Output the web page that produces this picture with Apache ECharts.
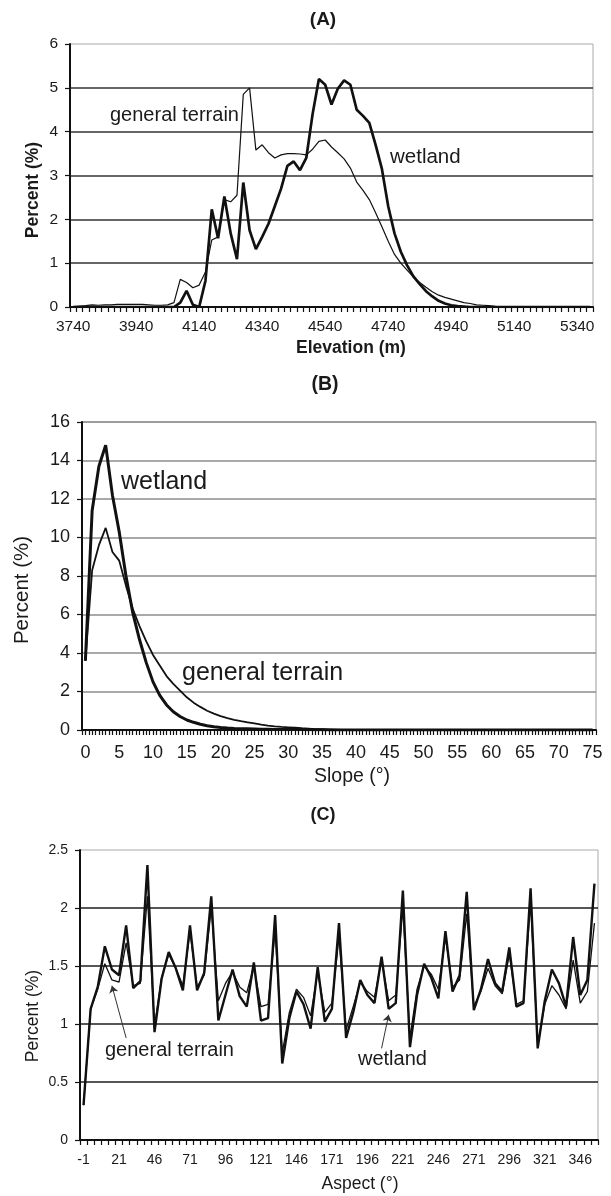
<!DOCTYPE html>
<html>
<head>
<meta charset="utf-8">
<title>Wetland vs general terrain</title>
<script src="https://cdn.jsdelivr.net/npm/echarts@6/dist/echarts.min.js"></script>
<style>
  html, body { margin: 0; padding: 0; background: #fff; }
  #main { width: 611px; height: 1196px; }
</style>
</head>
<body>
<div id="main"></div>
<script>
// (A) elevation, 20 m bins from 3740 m
var elevCats = []
for (var e = 3740; e <= 5380; e += 20) elevCats.push(String(e))
var elevTerrain = [
  0.01, 0.02, 0.03, 0.05, 0.04, 0.05, 0.05, 0.06, 0.06, 0.06,
  0.06, 0.06, 0.05, 0.04, 0.04, 0.05, 0.1, 0.63, 0.56, 0.44,
  0.5, 0.8, 1.53, 1.6, 2.45, 2.4, 2.55, 4.85, 5.0, 3.58,
  3.7, 3.52, 3.4, 3.47, 3.5, 3.5, 3.49, 3.47, 3.6, 3.78,
  3.81, 3.65, 3.52, 3.38, 3.17, 2.85, 2.66, 2.45, 2.15, 1.83,
  1.5, 1.2, 1.0, 0.84, 0.68, 0.56, 0.45, 0.35, 0.27, 0.22,
  0.18, 0.14, 0.1, 0.08, 0.05, 0.04, 0.03, 0.015, 0.01, 0,
  0, 0, 0, 0, 0, 0, 0, 0, 0, 0,
  0, 0, 0
]
var elevWetland = [
  0, 0, 0, 0, 0, 0, 0, 0, 0, 0,
  0, 0, 0, 0, 0, 0, 0, 0.1, 0.37, 0.05,
  0, 0.6, 2.23, 1.57, 2.52, 1.68, 1.09, 2.84, 1.75, 1.32,
  1.6, 1.9, 2.3, 2.7, 3.22, 3.32, 3.12, 3.4, 4.4, 5.2,
  5.07, 4.62, 4.98, 5.17, 5.07, 4.5, 4.36, 4.2, 3.7, 3.15,
  2.3, 1.68, 1.26, 0.95, 0.7, 0.52, 0.36, 0.24, 0.14, 0.08,
  0.04, 0.02, 0.01, 0, 0, 0, 0, 0, 0, 0,
  0, 0, 0, 0, 0, 0, 0, 0, 0, 0,
  0, 0, 0
]

// (B) slope, 1 degree bins
var slopeCats = []
for (var s = 0; s <= 75; s++) slopeCats.push(String(s))
var slopeWetland = [
  3.6, 11.4, 13.7, 14.8, 12.2, 10.3, 8.0, 6.1, 4.7, 3.5,
  2.5, 1.8, 1.3, 0.95, 0.7, 0.52, 0.4, 0.3, 0.22, 0.17,
  0.13, 0.1, 0.08, 0.07, 0.06, 0.05, 0.04, 0.04, 0.03, 0.03,
  0.03, 0.02, 0.02, 0.01, 0.01, 0.01, 0, 0, 0, 0,
  0, 0, 0, 0, 0, 0, 0, 0, 0, 0,
  0, 0, 0, 0, 0, 0, 0, 0, 0, 0,
  0, 0, 0, 0, 0, 0, 0, 0, 0, 0,
  0, 0, 0, 0, 0, 0
]
var slopeTerrain = [
  3.6, 8.3, 9.6, 10.5, 9.25, 8.8, 7.5, 6.3, 5.4, 4.6,
  3.9, 3.35, 2.8, 2.4, 2.05, 1.7, 1.42, 1.2, 1.0, 0.85,
  0.72, 0.62, 0.53, 0.46, 0.4, 0.34, 0.28, 0.23, 0.19, 0.16,
  0.14, 0.12, 0.09, 0.07, 0.05, 0.04, 0.03, 0.02, 0.01, 0.01,
  0, 0, 0, 0, 0, 0, 0, 0, 0, 0,
  0, 0, 0, 0, 0, 0, 0, 0, 0, 0,
  0, 0, 0, 0, 0, 0, 0, 0, 0, 0,
  0, 0, 0, 0, 0, 0
]

// (C) aspect: flat (-1) then 5 degree bins
var aspectCats = ['-1']
for (var a = 1; a <= 356; a += 5) aspectCats.push(String(a))
var aspectWetland = [
  0.3, 1.13, 1.32, 1.67, 1.47, 1.42, 1.85, 1.31, 1.37, 2.37,
  0.93, 1.39, 1.62, 1.48, 1.29, 1.85, 1.29, 1.44, 2.1, 1.03,
  1.25, 1.47, 1.24, 1.15, 1.53, 1.03, 1.05, 1.94, 0.66, 1.05,
  1.28, 1.17, 0.96, 1.49, 1.02, 1.13, 1.87, 0.88, 1.1, 1.38,
  1.25, 1.18, 1.58, 1.13, 1.18, 2.15, 0.8, 1.25, 1.52, 1.4,
  1.22, 1.8, 1.28, 1.42, 2.14, 1.12, 1.3, 1.56, 1.35, 1.28,
  1.66, 1.15, 1.18, 2.17, 0.79, 1.2, 1.47, 1.35, 1.15, 1.75,
  1.25, 1.38, 2.21
]
var aspectTerrain = [
  0.3, 1.13, 1.3, 1.52, 1.38, 1.36, 1.7, 1.33, 1.35, 2.1,
  0.98, 1.4, 1.6, 1.48, 1.33, 1.8, 1.32, 1.42, 2.0, 1.2,
  1.35, 1.45, 1.32, 1.27, 1.5, 1.15, 1.17, 1.8, 0.75, 1.1,
  1.3, 1.23, 1.07, 1.45, 1.1, 1.18, 1.75, 0.95, 1.15, 1.36,
  1.28, 1.23, 1.55, 1.2, 1.25, 2.0, 0.88, 1.3, 1.5, 1.43,
  1.3, 1.75, 1.32, 1.38, 1.95, 1.15, 1.28, 1.48, 1.33, 1.26,
  1.6, 1.17, 1.2, 2.05, 0.82, 1.17, 1.33, 1.25, 1.13, 1.55,
  1.18, 1.28, 1.87
]

var FONT = '"Liberation Sans", Arial, Helvetica, sans-serif'
var INK = '#111'

function txt(x, y, text, size, opts) {
  opts = opts || {}
  return {
    type: 'text',
    x: x,
    y: y,
    rotation: opts.rotate ? Math.PI / 2 : 0,
    silent: true,
    style: {
      text: text,
      font: (opts.bold ? 'bold ' : '') + size + 'px ' + FONT,
      fill: '#1a1a1a',
      align: opts.align || 'center',
      verticalAlign: 'middle',
      textAlign: opts.align || 'center',
      textVerticalAlign: 'middle',
    },
  }
}

function catAxis(grid, data, fontSize, labelEvery, margin) {
  return {
    type: 'category',
    gridIndex: grid,
    data: data,
    boundaryGap: true,
    axisLine: { lineStyle: { color: INK, width: 2 } },
    axisTick: { show: true, interval: 0, length: 5, lineStyle: { color: INK, width: 1.2 } },
    axisLabel: { interval: labelEvery - 1, fontSize: fontSize, color: '#1a1a1a', margin: margin, fontFamily: FONT },
    splitLine: { show: false },
  }
}

function valAxis(grid, max, step, fontSize, gridColor, showMax) {
  return {
    type: 'value',
    gridIndex: grid,
    min: 0,
    max: max,
    interval: step,
    axisLine: { show: true, lineStyle: { color: INK, width: 2 } },
    axisTick: { show: true, length: 5, lineStyle: { color: INK, width: 1.2 } },
    axisLabel: { fontSize: fontSize, color: '#1a1a1a', margin: 12, fontFamily: FONT },
    splitLine: { show: true, showMaxLine: showMax, lineStyle: { color: gridColor, width: 1.5 } },
  }
}

function line(name, x, y, data, width) {
  return {
    name: name,
    type: 'line',
    xAxisIndex: x,
    yAxisIndex: y,
    data: data,
    symbol: 'none',
    smooth: false,
    lineStyle: { color: INK, width: width },
    emphasis: { disabled: true },
  }
}

var chart = echarts.init(document.getElementById('main'))

var terrainC = line('general terrain', 2, 2, aspectTerrain, 1.3)
terrainC.markLine = {
  silent: true,
  symbol: ['none', 'arrow'],
  symbolSize: 7,
  label: { show: false },
  lineStyle: { color: '#333', width: 1, type: 'solid' },
  data: [
    [{ coord: [aspectCats[6], 0.88] }, { coord: [aspectCats[4], 1.33] }],
    [{ coord: [aspectCats[42], 0.79] }, { coord: [aspectCats[43], 1.08] }],
  ],
}

var option = {
  animation: false,
  backgroundColor: '#fff',
  textStyle: { fontFamily: FONT },
  grid: [
    { left: 70, top: 44, width: 523, height: 263, show: true, borderColor: '#aaa', borderWidth: 1 },
    { left: 82, top: 422, width: 514, height: 308, show: true, borderColor: '#999', borderWidth: 1 },
    { left: 80, top: 850, width: 518, height: 290, show: true, borderColor: '#aaa', borderWidth: 1 },
  ],
  xAxis: [
    catAxis(0, elevCats, 15.5, 10, 12),
    Object.assign(catAxis(1, slopeCats, 18, 5, 14), { axisTick: { show: false } }),
    catAxis(2, aspectCats, 14, 5, 13),
    // half-degree tick marks under the slope axis
    {
      type: 'value',
      gridIndex: 1,
      min: 0,
      max: 152,
      interval: 1,
      position: 'bottom',
      axisLine: { show: false },
      axisLabel: { show: false },
      splitLine: { show: false },
      axisTick: { show: true, length: 5, lineStyle: { color: INK, width: 1.2 } },
    },
  ],
  yAxis: [
    valAxis(0, 6, 1, 15.5, '#333', false),
    valAxis(1, 16, 2, 18, '#8c8c8c', true),
    valAxis(2, 2.5, 0.5, 14, '#1e1e1e', false),
  ],
  series: [
    line('wetland', 0, 0, elevWetland, 2.7),
    line('general terrain', 0, 0, elevTerrain, 1.2),
    line('wetland', 1, 1, slopeWetland, 3),
    line('general terrain', 1, 1, slopeTerrain, 1.8),
    line('wetland', 2, 2, aspectWetland, 2.4),
    terrainC,
  ],
  graphic: [
    // panel A
    txt(323, 20, '(A)', 19, { bold: true }),
    txt(33, 190, 'Percent (%)', 17.5, { bold: true, rotate: true }),
    txt(351, 348, 'Elevation (m)', 17.5, { bold: true }),
    txt(110, 115, 'general terrain', 20, { align: 'left' }),
    txt(390, 157, 'wetland', 20.5, { align: 'left' }),
    // panel B
    txt(325, 385, '(B)', 19.5, { bold: true }),
    txt(22, 590, 'Percent (%)', 20.5, { rotate: true }),
    txt(352, 777, 'Slope (°)', 19.5),
    txt(121, 482, 'wetland', 25, { align: 'left' }),
    txt(182, 673, 'general terrain', 25, { align: 'left' }),
    // panel C
    txt(323, 815, '(C)', 18, { bold: true }),
    txt(33, 1016, 'Percent (%)', 17.5, { rotate: true }),
    txt(360, 1184, 'Aspect (°)', 17.5),
    txt(105, 1050, 'general terrain', 20, { align: 'left' }),
    txt(358, 1059, 'wetland', 20, { align: 'left' }),
  ],
}

chart.setOption(option)
</script>
</body>
</html>
